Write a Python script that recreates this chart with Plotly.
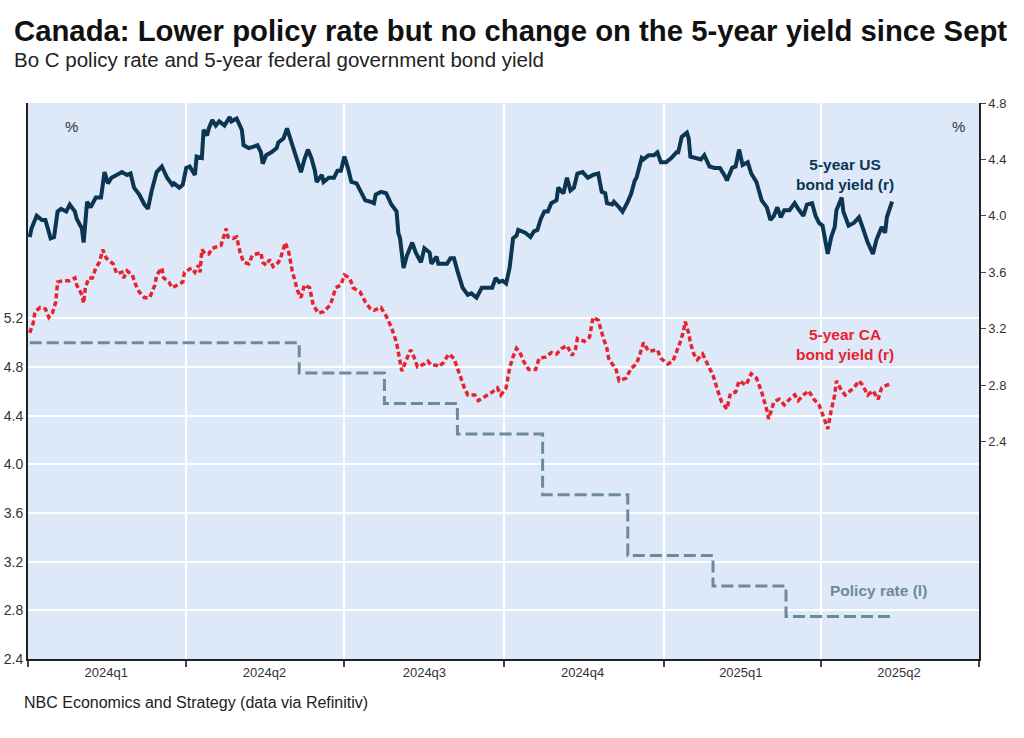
import plotly.graph_objects as go

# ---------------- DATA ----------------
us_dates = [
    "2024-01-02","2024-01-03","2024-01-06","2024-01-09","2024-01-11","2024-01-14","2024-01-16","2024-01-18",
    "2024-01-20","2024-01-23","2024-01-25","2024-01-28","2024-01-29","2024-02-01","2024-02-02","2024-02-04",
    "2024-02-06","2024-02-09","2024-02-12","2024-02-14","2024-02-16","2024-02-18","2024-02-21","2024-02-24",
    "2024-02-27","2024-02-29","2024-03-02","2024-03-05","2024-03-08","2024-03-10","2024-03-12","2024-03-15",
    "2024-03-18","2024-03-21","2024-03-24","2024-03-25","2024-03-28","2024-03-30","2024-04-01","2024-04-03",
    "2024-04-06","2024-04-07","2024-04-10","2024-04-11","2024-04-13","2024-04-14","2024-04-16","2024-04-18",
    "2024-04-20","2024-04-23","2024-04-26","2024-04-27","2024-04-30","2024-05-03","2024-05-04","2024-05-07",
    "2024-05-12","2024-05-14","2024-05-15","2024-05-17","2024-05-20","2024-05-23","2024-05-24","2024-05-27",
    "2024-05-29","2024-06-01","2024-06-04","2024-06-06","2024-06-08","2024-06-10","2024-06-12","2024-06-14",
    "2024-06-15","2024-06-18","2024-06-19","2024-06-22","2024-06-25","2024-06-27","2024-06-29","2024-07-01",
    "2024-07-03","2024-07-05","2024-07-08","2024-07-11","2024-07-13","2024-07-16","2024-07-18","2024-07-19",
    "2024-07-22","2024-07-25","2024-07-28","2024-07-31","2024-08-01","2024-08-02","2024-08-04","2024-08-06",
    "2024-08-09","2024-08-11","2024-08-14","2024-08-16","2024-08-19","2024-08-20","2024-08-23","2024-08-24",
    "2024-08-29","2024-08-31","2024-09-02","2024-09-04","2024-09-07","2024-09-10","2024-09-12","2024-09-15",
    "2024-09-18","2024-09-22","2024-09-24","2024-09-26","2024-09-28","2024-09-30","2024-10-02","2024-10-04",
    "2024-10-06","2024-10-08","2024-10-09","2024-10-13","2024-10-16","2024-10-18","2024-10-20","2024-10-22",
    "2024-10-24","2024-10-26","2024-10-28","2024-10-31","2024-11-01","2024-11-04","2024-11-06","2024-11-08",
    "2024-11-10","2024-11-12","2024-11-15","2024-11-18","2024-11-21","2024-11-24","2024-11-26","2024-11-28",
    "2024-11-29","2024-12-02","2024-12-03","2024-12-06","2024-12-08","2024-12-11","2024-12-13","2024-12-15",
    "2024-12-16","2024-12-19","2024-12-20","2024-12-23","2024-12-26","2024-12-28","2024-12-30","2025-01-02",
    "2025-01-05","2025-01-08","2025-01-09","2025-01-11","2025-01-14","2025-01-15","2025-01-16","2025-01-19",
    "2025-01-22","2025-01-24","2025-01-27","2025-01-30","2025-02-02","2025-02-05","2025-02-06","2025-02-09",
    "2025-02-11","2025-02-13","2025-02-15","2025-02-18","2025-02-20","2025-02-23","2025-02-26","2025-03-01",
    "2025-03-03","2025-03-05","2025-03-07","2025-03-09","2025-03-11","2025-03-14","2025-03-17","2025-03-19",
    "2025-03-22","2025-03-24","2025-03-27","2025-03-29","2025-03-31","2025-04-02","2025-04-04","2025-04-05",
    "2025-04-07","2025-04-09","2025-04-10","2025-04-13","2025-04-14","2025-04-17","2025-04-20","2025-04-23",
    "2025-04-25","2025-04-28","2025-05-01","2025-05-03","2025-05-06","2025-05-08","2025-05-09","2025-05-12",
]
us_yield = [
    3.85,3.91,4.00,3.97,3.97,3.84,3.85,4.03,
    4.05,4.03,4.08,4.03,3.98,3.91,3.81,4.10,
    4.06,4.13,4.13,4.31,4.23,4.27,4.29,4.31,
    4.29,4.30,4.20,4.15,4.08,4.05,4.17,4.31,
    4.35,4.27,4.22,4.23,4.20,4.22,4.34,4.35,
    4.29,4.42,4.41,4.61,4.57,4.62,4.68,4.64,
    4.67,4.64,4.70,4.67,4.69,4.61,4.50,4.48,
    4.50,4.45,4.37,4.43,4.45,4.48,4.52,4.55,
    4.62,4.50,4.37,4.31,4.40,4.47,4.41,4.32,
    4.24,4.29,4.24,4.27,4.27,4.32,4.32,4.42,
    4.34,4.24,4.23,4.15,4.11,4.10,4.09,4.15,
    4.17,4.16,4.08,4.03,3.88,3.84,3.63,3.72,
    3.81,3.74,3.67,3.77,3.74,3.66,3.71,3.66,
    3.66,3.70,3.70,3.61,3.49,3.44,3.45,3.42,
    3.49,3.49,3.49,3.56,3.53,3.54,3.52,3.63,
    3.84,3.86,3.90,3.88,3.85,3.89,3.90,3.98,
    4.03,4.03,4.09,4.11,4.20,4.16,4.27,4.18,
    4.20,4.30,4.31,4.27,4.29,4.30,4.17,4.16,
    4.09,4.08,4.10,4.06,4.03,4.10,4.16,4.25,
    4.27,4.41,4.40,4.43,4.43,4.45,4.38,4.38,
    4.41,4.45,4.45,4.56,4.59,4.55,4.42,4.41,
    4.40,4.43,4.35,4.34,4.34,4.28,4.25,4.34,
    4.35,4.47,4.36,4.38,4.30,4.24,4.11,4.06,
    3.97,4.00,4.06,3.99,4.04,4.04,4.09,4.05,
    4.00,4.08,4.09,4.00,3.95,3.93,3.78,3.73,
    3.85,3.92,4.04,4.13,4.03,3.93,3.95,3.99,
    3.92,3.81,3.73,3.83,3.92,3.88,3.99,4.10,
]

ca_dates = [
    "2024-01-02","2024-01-04","2024-01-05","2024-01-08","2024-01-11","2024-01-13","2024-01-15","2024-01-17",
    "2024-01-18","2024-01-21","2024-01-25","2024-01-28","2024-01-29","2024-02-01","2024-02-02","2024-02-03",
    "2024-02-05","2024-02-07","2024-02-09","2024-02-11","2024-02-13","2024-02-15","2024-02-19","2024-02-21",
    "2024-02-24","2024-02-25","2024-02-27","2024-03-01","2024-03-03","2024-03-05","2024-03-08","2024-03-11",
    "2024-03-14","2024-03-15","2024-03-18","2024-03-19","2024-03-22","2024-03-24","2024-03-27","2024-03-30",
    "2024-03-31","2024-04-04","2024-04-06","2024-04-08","2024-04-09","2024-04-10","2024-04-12","2024-04-14",
    "2024-04-16","2024-04-21","2024-04-24","2024-04-25","2024-04-28","2024-04-30","2024-05-02","2024-05-04",
    "2024-05-07","2024-05-09","2024-05-14","2024-05-15","2024-05-17","2024-05-19","2024-05-21","2024-05-24",
    "2024-05-25","2024-05-28","2024-05-30","2024-06-01","2024-06-04","2024-06-06","2024-06-08","2024-06-11",
    "2024-06-13","2024-06-16","2024-06-19","2024-06-23","2024-06-26","2024-06-29","2024-07-01","2024-07-04",
    "2024-07-06","2024-07-10","2024-07-13","2024-07-16","2024-07-18","2024-07-22","2024-07-25","2024-07-28",
    "2024-07-31","2024-08-01","2024-08-03","2024-08-06","2024-08-08","2024-08-10","2024-08-12","2024-08-16",
    "2024-08-18","2024-08-20","2024-08-23","2024-08-24","2024-08-27","2024-08-30","2024-09-02","2024-09-04",
    "2024-09-06","2024-09-08","2024-09-10","2024-09-14","2024-09-16","2024-09-20","2024-09-24","2024-09-27",
    "2024-09-29","2024-10-02","2024-10-04","2024-10-06","2024-10-08","2024-10-10","2024-10-12","2024-10-15",
    "2024-10-19","2024-10-21","2024-10-25","2024-10-28","2024-10-31","2024-11-03","2024-11-06","2024-11-09",
    "2024-11-11","2024-11-12","2024-11-16","2024-11-19","2024-11-20","2024-11-21","2024-11-24","2024-11-26",
    "2024-11-27","2024-11-29","2024-11-30","2024-12-02","2024-12-04","2024-12-06","2024-12-10","2024-12-13",
    "2024-12-16","2024-12-18","2024-12-20","2024-12-23","2024-12-28","2024-12-30","2025-01-03","2025-01-06",
    "2025-01-08","2025-01-10","2025-01-12","2025-01-13","2025-01-15","2025-01-16","2025-01-18","2025-01-20",
    "2025-01-23","2025-01-26","2025-01-29","2025-02-01","2025-02-03","2025-02-06","2025-02-08","2025-02-11",
    "2025-02-13","2025-02-17","2025-02-20","2025-02-23","2025-02-26","2025-03-01","2025-03-02","2025-03-05",
    "2025-03-08","2025-03-11","2025-03-14","2025-03-17","2025-03-19","2025-03-22","2025-03-25","2025-03-28",
    "2025-03-31","2025-04-03","2025-04-05","2025-04-07","2025-04-09","2025-04-10","2025-04-13","2025-04-15",
    "2025-04-17","2025-04-20","2025-04-23","2025-04-25","2025-04-28","2025-05-01","2025-05-04","2025-05-06",
    "2025-05-09","2025-05-12",
]
ca_yield = [
    3.17,3.24,3.32,3.35,3.34,3.28,3.31,3.39,
    3.53,3.54,3.54,3.56,3.51,3.44,3.38,3.49,
    3.56,3.56,3.63,3.67,3.76,3.70,3.66,3.59,
    3.60,3.56,3.61,3.58,3.51,3.46,3.42,3.42,
    3.51,3.58,3.63,3.56,3.53,3.49,3.51,3.53,
    3.60,3.63,3.60,3.65,3.60,3.76,3.73,3.73,
    3.77,3.79,3.91,3.85,3.84,3.85,3.74,3.67,
    3.66,3.72,3.74,3.67,3.65,3.69,3.64,3.67,
    3.69,3.81,3.74,3.61,3.47,3.42,3.51,3.49,
    3.37,3.31,3.32,3.37,3.49,3.51,3.58,3.56,
    3.49,3.46,3.39,3.34,3.33,3.35,3.29,3.21,
    3.10,3.02,2.90,2.99,3.05,3.00,2.93,2.95,
    2.97,2.94,2.94,2.93,2.96,3.02,2.99,2.92,
    2.85,2.78,2.73,2.73,2.69,2.72,2.75,2.78,
    2.73,2.78,2.92,3.00,3.06,3.03,2.97,2.91,
    2.91,2.99,3.00,3.03,3.02,3.06,3.08,3.01,
    3.06,3.13,3.11,3.14,3.21,3.28,3.26,3.17,
    3.13,3.06,2.99,2.95,2.92,2.83,2.85,2.92,
    2.95,3.02,3.10,3.04,3.05,2.99,2.95,2.97,
    3.03,3.10,3.18,3.25,3.17,3.10,3.02,2.98,
    3.02,2.95,2.87,2.75,2.68,2.63,2.74,2.75,
    2.83,2.80,2.88,2.85,2.75,2.62,2.56,2.68,
    2.70,2.66,2.70,2.73,2.69,2.73,2.76,2.70,
    2.66,2.56,2.49,2.62,2.73,2.83,2.76,2.73,
    2.75,2.78,2.83,2.80,2.73,2.76,2.70,2.78,
    2.80,2.81,
]

policy_dates = ["2024-01-02","2024-06-05","2024-07-24","2024-09-04","2024-10-23",
                "2024-12-11","2025-01-29","2025-03-12","2025-05-12"]
policy_rate = [5.00, 4.75, 4.50, 4.25, 3.75, 3.25, 3.00, 2.75, 2.75]

quarter_labels = ["2024q1", "2024q2", "2024q3", "2024q4", "2025q1", "2025q2"]
quarter_mid = ["2024-02-15", "2024-05-16", "2024-08-16", "2024-11-15", "2025-02-14", "2025-05-16"]

left_ticks = [2.4, 2.8, 3.2, 3.6, 4.0, 4.4, 4.8, 5.2]
right_ticks = [2.4, 2.8, 3.2, 3.6, 4.0, 4.4, 4.8]

# ---------------- STYLE ----------------
NAVY = "#0c3552"
RED = "#e8232d"
SLATE = "#6e8a98"
BG = "#dde8f9"
FONT = "Liberation Sans, Arial, sans-serif"

fig = go.Figure()

fig.add_trace(go.Scatter(
    x=policy_dates, y=policy_rate, yaxis="y", mode="lines",
    line=dict(color=SLATE, width=3, dash="12px,5px", shape="hv"),
    name="Policy rate (l)"))

fig.add_trace(go.Scatter(
    x=ca_dates, y=ca_yield, yaxis="y2", mode="lines",
    line=dict(color=RED, width=3.5, dash="5px,3px"),
    name="5-year CA bond yield (r)"))

fig.add_trace(go.Scatter(
    x=us_dates, y=us_yield, yaxis="y2", mode="lines",
    line=dict(color=NAVY, width=4),
    name="5-year US bond yield (r)"))

fig.update_layout(
    width=1024, height=738,
    margin=dict(l=28, r=45, t=103, b=79, autoexpand=False),
    paper_bgcolor="white", plot_bgcolor=BG,
    showlegend=False,
    font=dict(family=FONT, size=13, color="#333333"),
    xaxis=dict(
        type="date", range=["2024-01-01", "2025-07-01"], automargin=False,
        tickvals=quarter_mid, ticktext=quarter_labels,
        ticks="", showgrid=False, zeroline=False,
        showline=True, linecolor="#222222", linewidth=2,
        tickfont=dict(size=13, color="#333333"),
        minor=dict(tick0="2024-01-01", dtick="M3", ticks="outside", ticklen=6,
                   tickcolor="#444444", tickwidth=1.5,
                   showgrid=True, gridcolor="white", gridwidth=1.5),
    ),
    yaxis=dict(
        range=[2.4, 6.97], automargin=False,
        tickvals=left_ticks, ticktext=[f"{v:.1f}" for v in left_ticks],
        showgrid=True, gridcolor="white", gridwidth=1.5, zeroline=False,
        showline=True, linecolor="#222222", linewidth=2, ticks="",
        tickfont=dict(size=14, color="#333333"),
    ),
    yaxis2=dict(
        overlaying="y", side="right", range=[0.858, 4.8], automargin=False,
        tickvals=right_ticks, ticktext=[f"{v:.1f}" for v in right_ticks],
        showgrid=False, zeroline=False,
        showline=True, linecolor="#222222", linewidth=1.5,
        ticks="outside", ticklen=5, tickcolor="#444444",
        tickfont=dict(size=13, color="#333333"),
    ),
)

annotations = [
    dict(text="<b>Canada: Lower policy rate but no change on the 5-year yield since Sept</b>",
         xref="paper", yref="paper", x=-0.017, y=1.131, xanchor="left", yanchor="middle",
         showarrow=False, font=dict(size=29.3, color="#111111", family=FONT)),
    dict(text="Bo C policy rate and 5-year federal government bond yield",
         xref="paper", yref="paper", x=-0.017, y=1.079, xanchor="left", yanchor="middle",
         showarrow=False, font=dict(size=20.5, color="#222222", family=FONT)),
    dict(text="NBC Economics and Strategy (data via Refinitiv)",
         xref="paper", yref="paper", x=-0.0063, y=-0.079, xanchor="left", yanchor="middle",
         showarrow=False, font=dict(size=16, color="#222222", family=FONT)),
    dict(text="%", xref="paper", yref="paper", x=0.046, y=0.957, showarrow=False,
         xanchor="center", yanchor="middle", font=dict(size=15, color="#333333")),
    dict(text="%", xref="paper", yref="paper", x=0.978, y=0.957, showarrow=False,
         xanchor="center", yanchor="middle", font=dict(size=15, color="#333333")),
    dict(text="<b>5-year US<br>bond yield (r)</b>", xref="paper", yref="paper",
         x=0.859, y=0.872, showarrow=False, align="center", xanchor="center", yanchor="middle",
         font=dict(size=15.5, color=NAVY)),
    dict(text="<b>5-year CA<br>bond yield (r)</b>", xref="paper", yref="paper",
         x=0.859, y=0.565, showarrow=False, align="center", xanchor="center", yanchor="middle",
         font=dict(size=15.5, color=RED)),
    dict(text="<b>Policy rate (l)</b>", xref="paper", yref="paper",
         x=0.894, y=0.124, showarrow=False, align="center", xanchor="center", yanchor="middle",
         font=dict(size=15.5, color=SLATE)),
]
fig.update_layout(annotations=annotations)

# remove the default 8px page margin so the figure fills the window exactly
fig.write_html("out.html", config={"displayModeBar": False},
               post_script="document.body.style.margin='0px';")
